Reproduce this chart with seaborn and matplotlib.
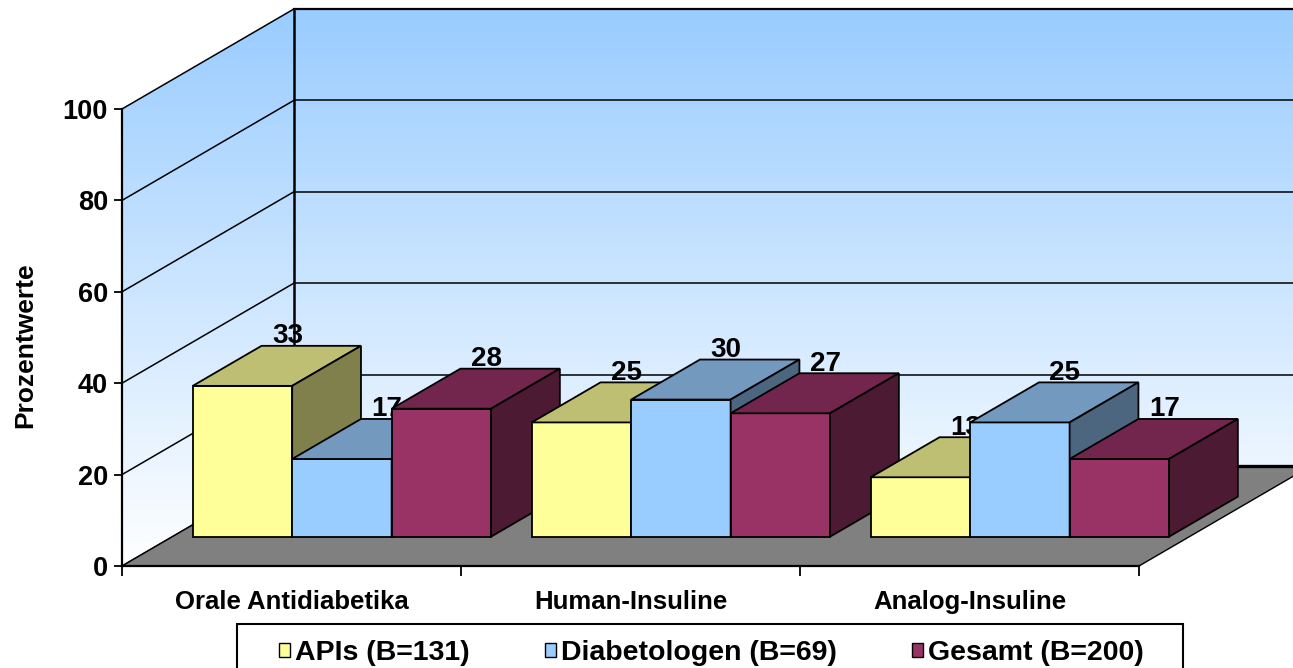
import numpy as np
import pandas as pd
import seaborn as sns
import matplotlib.pyplot as plt
from matplotlib.patches import Polygon, Rectangle
from matplotlib.colors import LinearSegmentedColormap

# Daten
kategorien = ['Orale Antidiabetika', 'Human-Insuline', 'Analog-Insuline']
gruppen = ['APIs (B=131)', 'Diabetologen (B=69)', 'Gesamt (B=200)']
apis = [33, 25, 13]
diabetologen = [17, 30, 25]
gesamt = [28, 27, 17]
y_ticks = [0, 20, 40, 60, 80, 100]

# Farben: Vorderseite, Oberseite, Seitenflaeche
farben_vorne = ['#FFFF99', '#99CCFF', '#993366']
farben_oben = ['#BFBF73', '#7399BF', '#73264D']
farben_seite = ['#80804D', '#4D6680', '#4D1A33']

df = pd.DataFrame({
    'Kategorie': kategorien * 3,
    'Gruppe': np.repeat(gruppen, len(kategorien)),
    'Wert': apis + diabetologen + gesamt,
})

plt.rcParams['font.family'] = ['Liberation Sans', 'DejaVu Sans']
plt.rcParams['font.weight'] = 'bold'

W, H = 1293, 668
fig = plt.figure(figsize=(W / 100, H / 100), dpi=100)
ax = fig.add_axes([122 / W, 1 - 566 / H, (1139 - 122) / W, (566 - 109) / H])

sns.barplot(data=df, x='Kategorie', y='Wert', hue='Gruppe', palette=farben_vorne,
            width=0.88, edgecolor='black', linewidth=1.3, saturation=1,
            legend=False, ax=ax)

x0, x1 = -0.5, len(kategorien) - 0.5
ax.set_xlim(x0, x1)
ax.set_ylim(0, 100)
ax.patch.set_visible(False)

# 3D-Tiefe (in Datenkoordinaten)
TX = 172 / 339
TY = 21.9
z0 = 0.293      # Abstand der Balken von der Vorderkante
tiefe = 0.40    # Tiefe der Balken

# Hintergrund-Achse mit gleichen Datenkoordinaten, ueber die ganze Abbildung
inv = ax.transData.inverted()
(lx, ly), (rx, ry) = inv.transform(fig.transFigure.transform([(0, 0), (1, 1)]))
ax_bg = fig.add_axes([0, 0, 1, 1], zorder=-1)

# Waende mit Farbverlauf
wand = Polygon([(x0, 0), (x0, 100), (x0 + TX, 100 + TY), (x1 + TX, 100 + TY),
                (x1 + TX, TY), (x0 + TX, TY)], closed=True,
               facecolor='none', edgecolor='none')
ax_bg.add_patch(wand)
cmap = LinearSegmentedColormap.from_list('wand', ['#FFFFFF', '#99CCFF'])
im = ax_bg.imshow(np.linspace(0, 1, 256).reshape(-1, 1), cmap=cmap, origin='lower',
                  extent=(x0, x1 + TX, 0, 100 + TY), aspect='auto', zorder=0)
im.set_clip_path(wand)

# Gitternetz auf Seiten- und Rueckwand
for v in y_ticks:
    ax_bg.plot([x0, x0 + TX], [v, v + TY], color='black', lw=1.1, zorder=1)
    if v > 0:
        ax_bg.plot([x0 + TX, x1 + TX], [v + TY, v + TY], color='black',
                   lw=1.6 if v == 100 else 1.1, zorder=1)
ax_bg.plot([x0 + TX, x0 + TX], [TY, 100 + TY], color='black', lw=1.8, zorder=1)

# Boden
boden = Polygon([(x0, 0), (x1, 0), (x1 + TX, TY), (x0 + TX, TY)], closed=True,
                facecolor='#808080', edgecolor='black', lw=1.0, zorder=2)
ax_bg.add_patch(boden)
ax_bg.plot([x0 + TX, x1 + TX], [TY, TY], color='black', lw=2.4, zorder=2.1)

ax_bg.set_xlim(lx, rx)
ax_bg.set_ylim(ly, ry)
ax_bg.axis('off')

# Balken in 3D-Quader umbauen
bx, by = tiefe * TX, tiefe * TY
for j, cont in enumerate(ax.containers):
    for i, bar in enumerate(cont):
        k = i * len(gruppen) + j
        x = bar.get_x() + z0 * TX
        w = bar.get_width()
        h = bar.get_height()
        unten = z0 * TY
        oben = unten + h
        bar.set_x(x)
        bar.set_y(unten)
        bar.set_zorder(10 + 3 * k)
        bar.set_clip_on(False)
        deckel = Polygon([(x, oben), (x + w, oben), (x + w + bx, oben + by), (x + bx, oben + by)],
                         closed=True, facecolor=farben_oben[j], edgecolor='black', lw=1.3,
                         clip_on=False, zorder=10 + 3 * k + 1)
        seite = Polygon([(x + w, unten), (x + w, oben), (x + w + bx, oben + by), (x + w + bx, unten + by)],
                        closed=True, facecolor=farben_seite[j], edgecolor='black', lw=1.3,
                        clip_on=False, zorder=10 + 3 * k + 2)
        ax.add_patch(deckel)
        ax.add_patch(seite)
        ax.text(x + w / 2 + 0.133, oben + 9.3, f'{h:.0f}', ha='center', va='baseline',
                fontsize=20, fontweight='bold', zorder=10 + 3 * k + 2.5, clip_on=False)

ax.set_xlim(x0, x1)
ax.set_ylim(0, 100)

# Achsen
ax.set_yticks(y_ticks)
ax.set_yticklabels([str(v) for v in y_ticks], fontsize=19.5)
ax.tick_params(axis='y', length=6, width=1.3, pad=4, direction='out')
ax.set_xticks(np.arange(x0, x1 + 0.01, 1.0))
ax.set_xticklabels([])
ax.set_xticks(range(len(kategorien)), minor=True)
ax.set_xticklabels(kategorien, minor=True, fontsize=18.5)
ax.tick_params(axis='x', which='major', length=7, width=1.3, direction='out')
ax.tick_params(axis='x', which='minor', length=0, pad=17)
ax.set_xlabel('')
ax.set_ylabel('Prozentwerte', fontsize=19, fontweight='bold')
ax.yaxis.set_label_coords(-0.0835, 0.4836)
for s in ['top', 'right']:
    ax.spines[s].set_visible(False)
for s in ['left', 'bottom']:
    ax.spines[s].set_linewidth(1.6)

# Legende
handles = [Rectangle((0, 0), 1, 1, facecolor=c, edgecolor='black', lw=1) for c in farben_vorne]
fig.legend(handles, gruppen, loc='center left', bbox_to_anchor=(279 / W, 1 - 653 / H),
           frameon=False, ncol=3, fontsize=20.5, handlelength=0.38, handleheight=0.38,
           handletextpad=0.18, columnspacing=2.64, borderpad=0, borderaxespad=0)
fig.add_artist(Rectangle((237 / W, -0.1), (1183 - 237) / W, (H - 624) / H + 0.1,
                         transform=fig.transFigure, fill=False, edgecolor='black', lw=1.5))

fig.savefig('out.png', dpi=100)
